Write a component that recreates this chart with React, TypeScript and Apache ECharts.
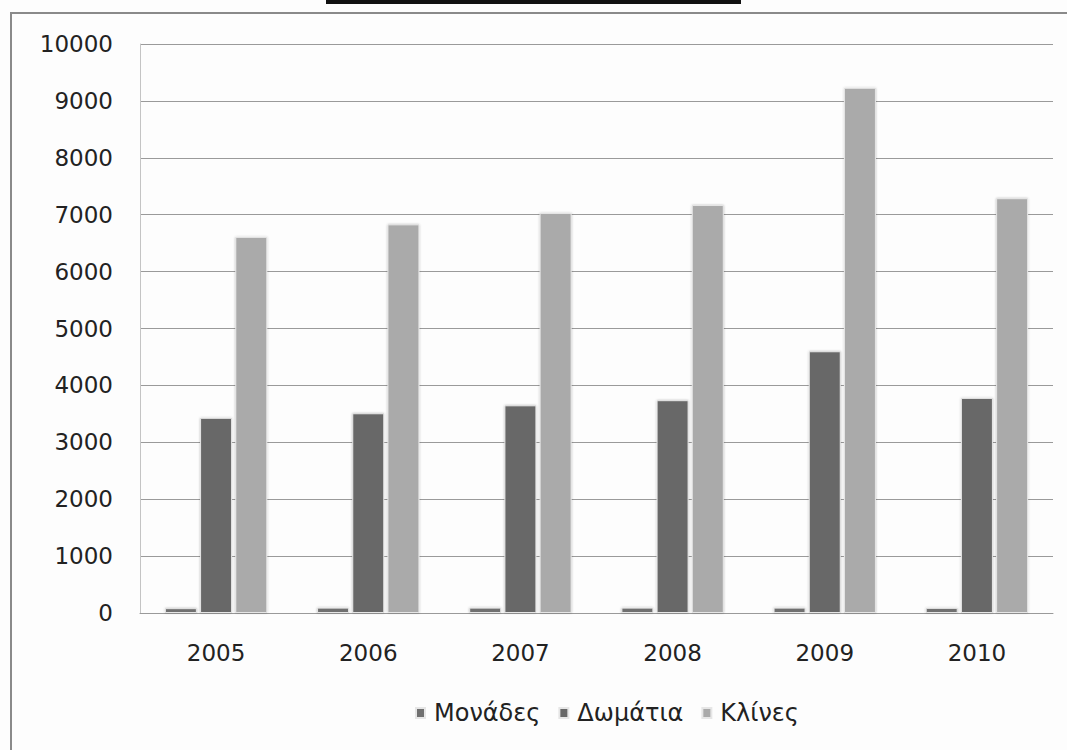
import React, { useEffect, useRef } from "react";
import * as echarts from "echarts";

const years = ["2005", "2006", "2007", "2008", "2009", "2010"];
const units = [85, 95, 95, 95, 95, 90]; // Μονάδες
const rooms = [3430, 3510, 3650, 3740, 4600, 3780]; // Δωμάτια
const beds = [6610, 6830, 7030, 7170, 9230, 7290]; // Κλίνες
const seriesNames = ["Μονάδες", "Δωμάτια", "Κλίνες"];
const seriesColors = ["#707070", "#686868", "#aaaaaa"];

export default function App() {
  const ref = useRef<HTMLDivElement>(null);

  useEffect(() => {
    if (!ref.current) return;
    const chart = echarts.init(ref.current, null, { renderer: "svg" });
    const font = "'DejaVu Sans', Verdana, sans-serif";
    const data = [units, rooms, beds];
    chart.setOption({
      animation: false,
      backgroundColor: "#fdfdfd",
      textStyle: { fontFamily: font },
      grid: { left: 140, right: 14, top: 44, bottom: 137 },
      legend: {
        left: 410,
        top: 696,
        itemWidth: 9,
        itemHeight: 10,
        itemGap: 18,
        icon: "rect",
        textStyle: { fontSize: 24, color: "#222", fontFamily: font, padding: [0, 0, 0, 4] },
        data: seriesNames,
      },
      xAxis: {
        type: "category",
        data: years,
        axisLine: { lineStyle: { color: "#9a9a9a", width: 1 } },
        axisTick: { show: false },
        axisLabel: { fontSize: 23, color: "#222", margin: 28, fontFamily: font },
      },
      yAxis: {
        type: "value",
        min: 0,
        max: 10000,
        interval: 1000,
        axisLine: { show: true, lineStyle: { color: "#c4c4c4" } },
        axisTick: { show: false },
        splitLine: { lineStyle: { color: "#9a9a9a", width: 1 } },
        axisLabel: {
          fontSize: 23,
          color: "#222",
          margin: 27,
          fontFamily: font,
          formatter: (v: number) => String(v),
        },
      },
      series: seriesNames.map((name, i) => ({
        name,
        type: "bar",
        data: data[i],
        barWidth: 32,
        barGap: "10%",
        itemStyle: {
          color: seriesColors[i],
          borderColor: "#e6e6e6",
          borderWidth: 1,
          shadowColor: "rgba(0,0,0,0.25)",
          shadowBlur: 2,
        },
      })),
      graphic: [
        // outer frame, left and top edges
        {
          type: "line",
          shape: { x1: 11, y1: 13, x2: 11, y2: 750 },
          style: { stroke: "#8a8a8a", lineWidth: 2 },
        },
        {
          type: "line",
          shape: { x1: 10, y1: 13, x2: 1067, y2: 13 },
          style: { stroke: "#8a8a8a", lineWidth: 2 },
        },
        // title underline
        {
          type: "rect",
          shape: { x: 326, y: 0, width: 415, height: 4 },
          style: { fill: "#111" },
        },
      ],
    });
    return () => chart.dispose();
  }, []);

  return (
    <div
      ref={ref}
      style={{ position: "absolute", left: 0, top: 0, width: 1067, height: 750 }}
    />
  );
}
